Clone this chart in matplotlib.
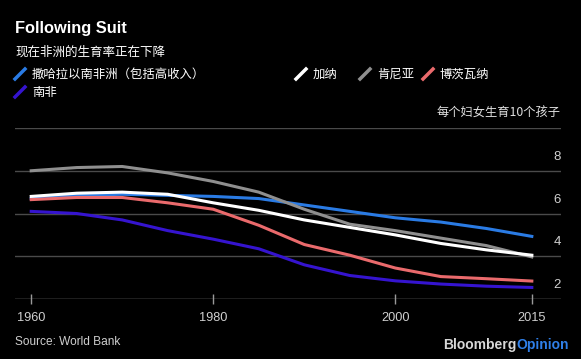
import matplotlib.pyplot as plt
from matplotlib.lines import Line2D

plt.rcParams['font.family'] = ['Liberation Sans', 'Noto Sans CJK SC', 'DejaVu Sans']
cjk = ['Noto Sans CJK SC', 'DejaVu Sans']

# Fertility rate, births per woman
years = [1960, 1965, 1970, 1975, 1980, 1985, 1990, 1995, 2000, 2005, 2010, 2015]
ssa = [6.7, 6.85, 6.9, 6.85, 6.8, 6.7, 6.4, 6.1, 5.8, 5.6, 5.3, 4.93]
south_africa = [6.1, 6.0, 5.7, 5.2, 4.8, 4.35, 3.6, 3.1, 2.85, 2.7, 2.6, 2.54]
ghana = [6.8, 6.95, 7.0, 6.9, 6.5, 6.15, 5.7, 5.35, 5.0, 4.6, 4.3, 4.05]
kenya = [8.0, 8.15, 8.2, 7.9, 7.5, 7.0, 6.2, 5.5, 5.2, 4.85, 4.5, 3.97]
botswana = [6.65, 6.75, 6.75, 6.5, 6.2, 5.45, 4.55, 4.05, 3.45, 3.05, 2.95, 2.84]

x_ticks = [1960, 1980, 2000, 2015]
y_ticks = [2, 4, 6, 8]

c_ssa = '#2a7be4'
c_sa = '#3514cf'
c_gh = '#ffffff'
c_ke = '#8f8f8f'
c_bw = '#ea6a6c'

fig = plt.figure(figsize=(5.81, 3.59), dpi=100, facecolor='black')
ax = fig.add_axes([0.0255, 0.1671, 0.94, 0.4763])
ax.set_facecolor('black')

for v in [4, 6, 8, 10]:
    ax.axhline(v, color='#4a4a4a', lw=1, zorder=1)
ax.axhline(2, color='#9a9a9a', lw=1, zorder=1)

ax.plot(years, ssa, color=c_ssa, lw=2.2, zorder=3)
ax.plot(years, south_africa, color=c_sa, lw=2.2, zorder=3)
ax.plot(years, botswana, color=c_bw, lw=2.2, zorder=3)
ax.plot(years, kenya, color=c_ke, lw=2.2, zorder=3)
ax.plot(years, ghana, color=c_gh, lw=2.2, zorder=4)

ax.set_xlim(1958.2, 2018.2)
ax.set_ylim(2, 10)
for s in ax.spines.values():
    s.set_visible(False)
ax.set_yticks([])
ax.set_xticks(x_ticks)
ax.set_xticklabels([str(t) for t in x_ticks])
ax.tick_params(axis='x', direction='inout', length=7, width=1, color='#9a9a9a',
               labelcolor='#d0d0d0', labelsize=9.2, pad=6)

for v in y_ticks:
    ax.annotate(str(v), xy=(1, v), xycoords=('axes fraction', 'data'),
                xytext=(0, 8), textcoords='offset pixels', ha='right', va='bottom',
                color='#d0d0d0', fontsize=9.5)
ax.annotate('每个妇女生育10个孩子', xy=(1, 10), xycoords=('axes fraction', 'data'),
            xytext=(0, 8), textcoords='offset pixels', ha='right', va='bottom',
            color='#e0e0e0', fontsize=8.8, family=cjk, fontweight='medium')

W, H = 581, 359


def fx(px):
    return px / W


def fy(py):
    return 1 - py / H


fig.text(fx(15), fy(29), 'Following Suit', color='white', fontsize=11.8,
         fontweight='bold', va='center')
fig.text(fx(15), fy(52), '现在非洲的生育率正在下降', color='white', fontsize=9,
         va='center', family=cjk, fontweight='medium')

legend = [
    (15, 74, c_ssa, '撒哈拉以南非洲（包括高收入）'),
    (15, 92, c_sa, '南非'),
    (296, 74, c_gh, '加纳'),
    (360, 74, c_ke, '肯尼亚'),
    (423, 74, c_bw, '博茨瓦纳'),
]
for px, py, col, lab in legend:
    fig.add_artist(Line2D([fx(px), fx(px + 10)], [fy(py + 5), fy(py - 5)],
                          color=col, lw=2.5, transform=fig.transFigure))
    fig.text(fx(px + 17), fy(py), lab, color='white', fontsize=8.9, va='center',
             family=cjk, fontweight='medium')

fig.text(fx(15), fy(342), 'Source: World Bank', color='#cfcfcf', fontsize=8.6,
         va='center')
t = fig.text(fx(569), fy(345), 'Opinion', color='#2f7fe8', fontsize=10,
             fontweight='bold', va='center', ha='right')
fig.canvas.draw()
bb = t.get_window_extent()
fig.text(bb.x0 / fig.bbox.width, fy(345), 'Bloomberg', color='#d8d8d8',
         fontsize=10, fontweight='bold', va='center', ha='right')

fig.savefig('out.png', dpi=100, facecolor='black')
